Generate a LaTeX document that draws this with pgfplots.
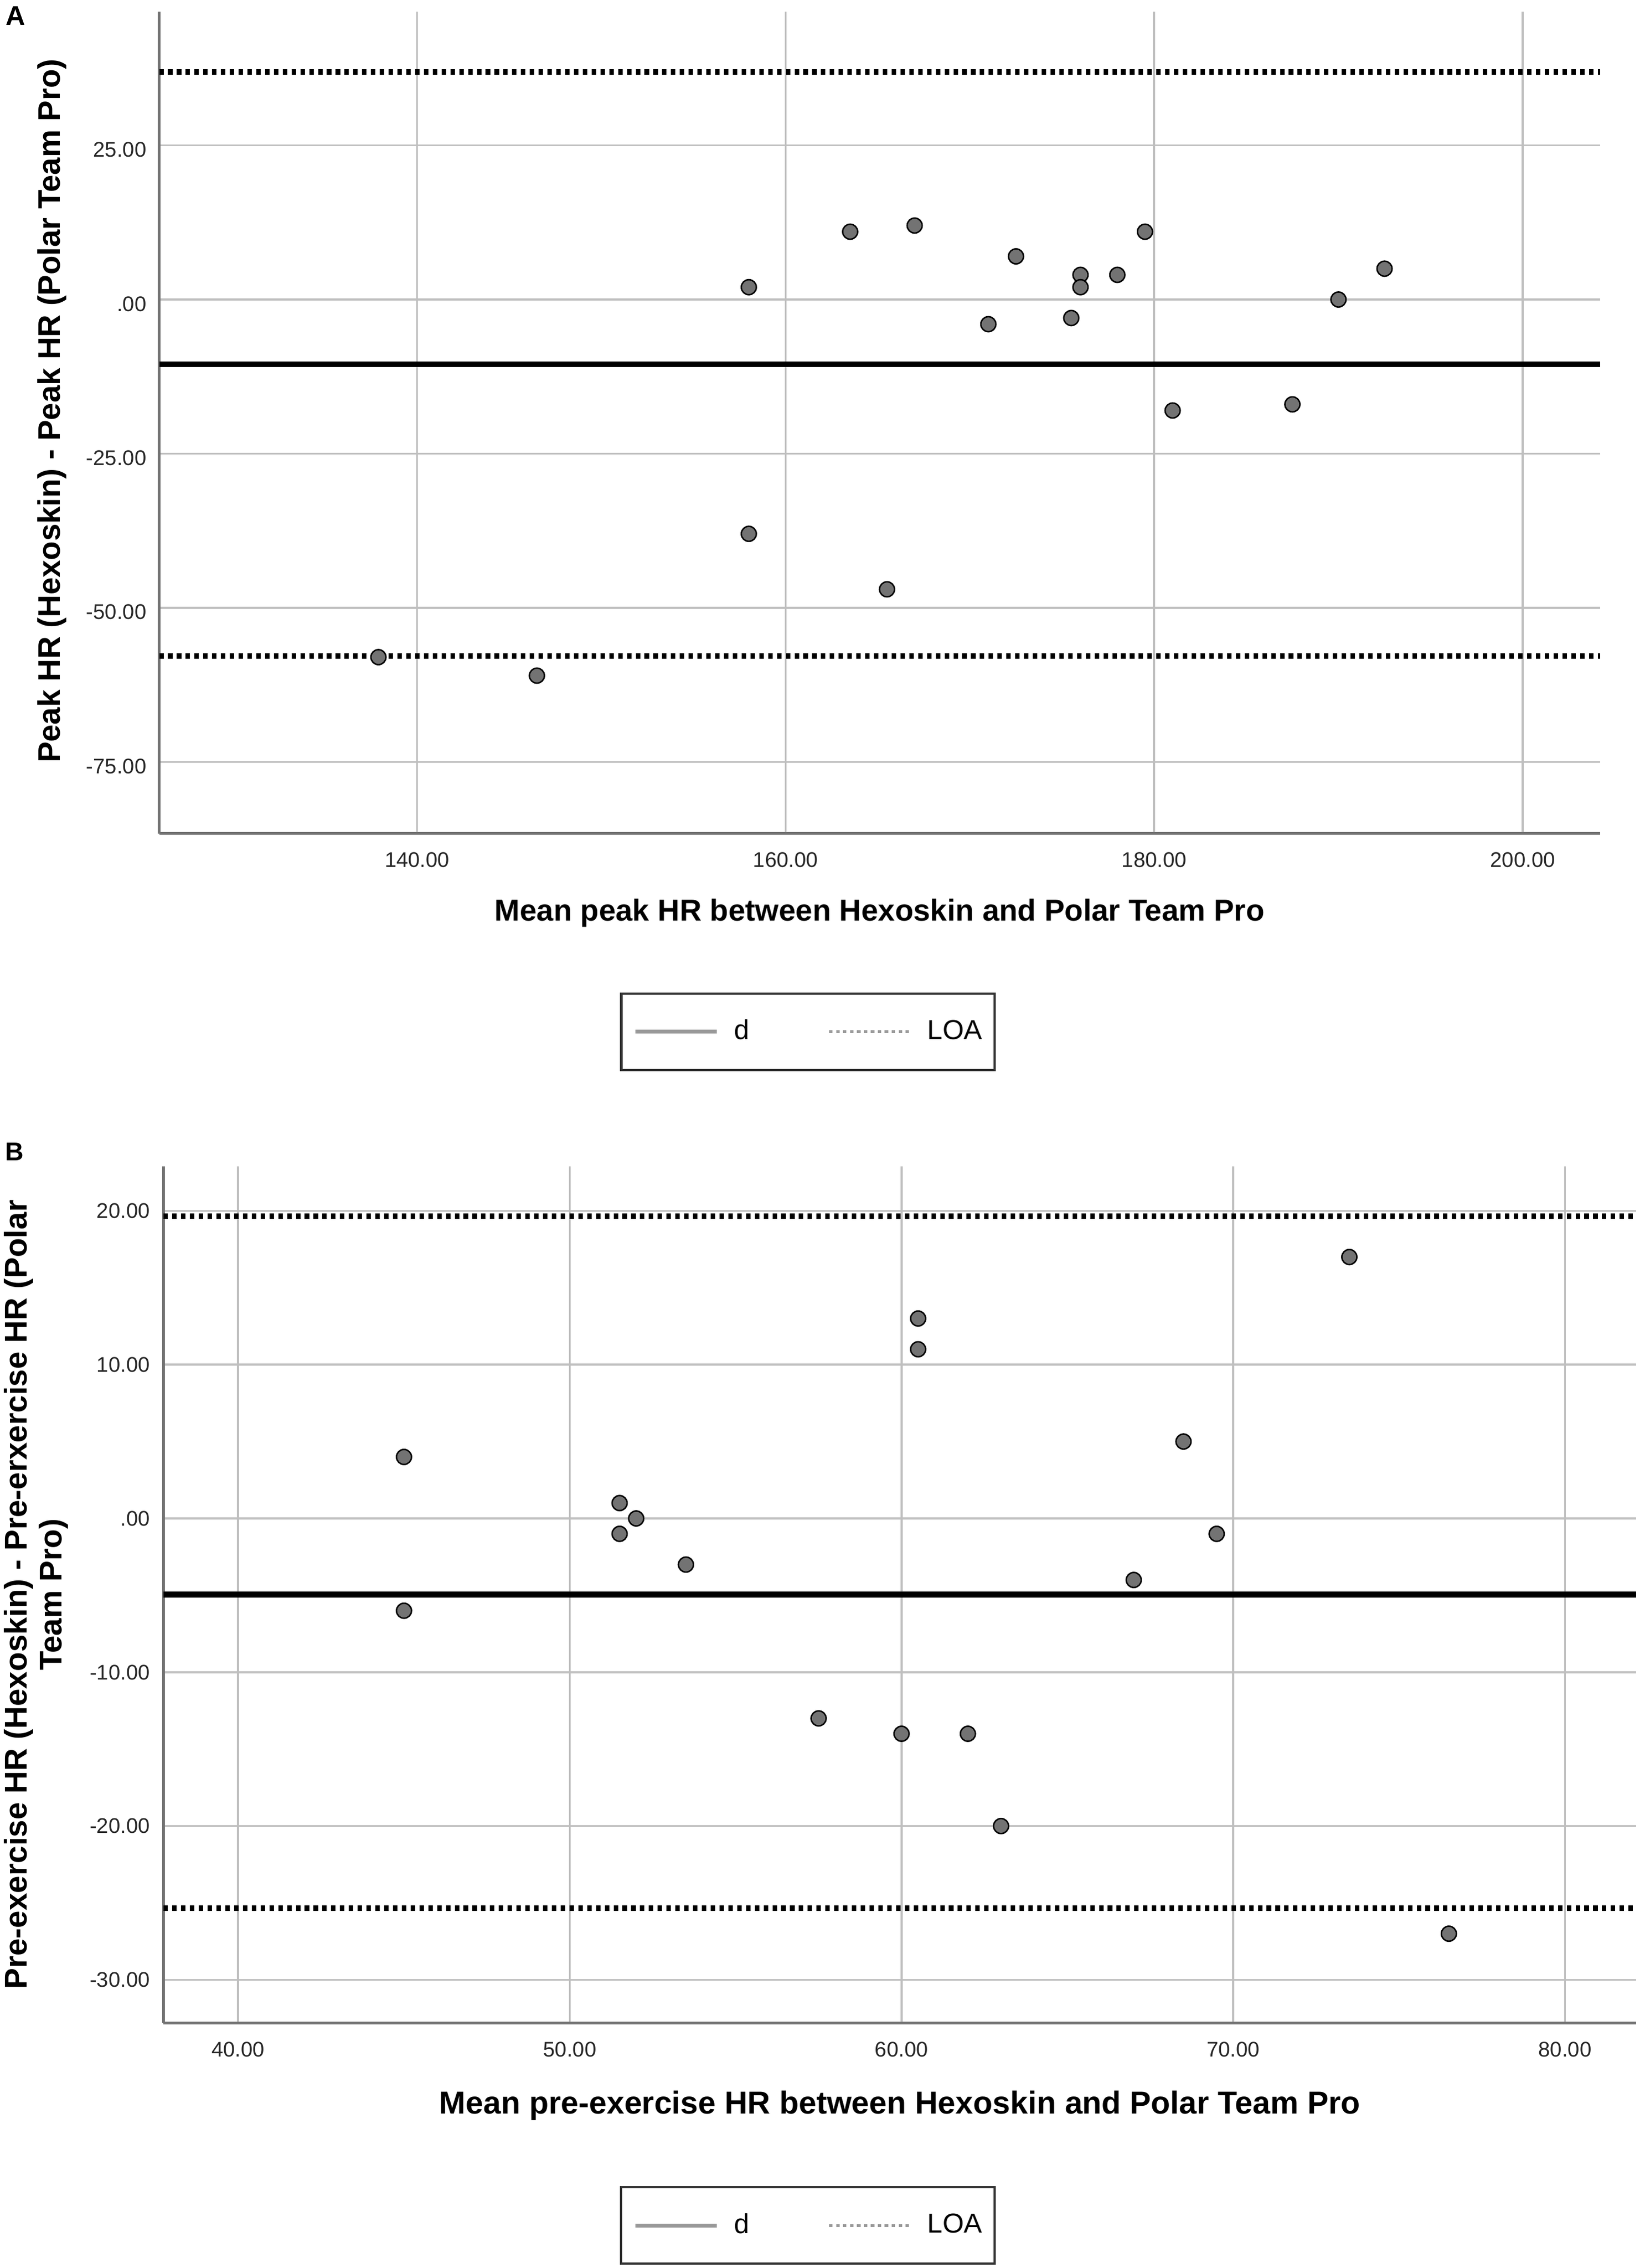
\documentclass[border=0pt]{standalone}
\usepackage{fontspec}
\setmainfont{Liberation Sans}
\usepackage{pgfplots}
\pgfplotsset{compat=1.18}
\pgfplotsset{
  spss/.style={
    scale only axis, anchor=south west,
    axis x line*=bottom, axis y line*=left,
    axis line style={-, black!55, line width=0.9bp},
    major tick length=0pt,
    grid=major, major grid style={black!25, line width=0.7bp},
    tick label style={font=\fontsize{7.35}{8}\selectfont, text=black!85},
    xticklabel style={yshift=-3bp},
    legend image code/.code={\draw[##1] (0bp,0bp) -- (28bp,0bp);},
    legend columns=2,
    legend style={anchor=center, draw=black!80, line width=0.8bp,
      inner xsep=4.3bp, inner ysep=9bp,
      font=\fontsize{9.5}{10}\selectfont,
      nodes={inner sep=0pt, text=black},
      /tikz/every odd column/.append style={column sep=5.5bp},
      /tikz/every even column/.append style={column sep=27bp}},
  },
  dline/.style={black, line width=2bp, no marks},
  loa/.style={black, line width=1.85bp, dash pattern=on 1.55bp off 1.5bp, no marks},
  pts/.style={only marks, mark=*, mark size=2.6bp, mark options={fill=black!55, draw=black, line width=0.5bp}},
}
\begin{document}
\begin{tikzpicture}
\path[use as bounding box] (0,0) rectangle (566.6bp,-783.7bp);
% ---------------- Panel A ----------------
\begin{axis}[spss,
  at={(55bp,-288bp)}, width=498bp, height=284bp,
  xmin=126.0, xmax=204.2, ymin=-86.6, ymax=46.7,
  xtick={140,160,180,200}, xticklabels={140.00,160.00,180.00,200.00},
  ytick={-75,-50,-25,0,25}, yticklabels={-75.00,-50.00,-25.00,.00,25.00},
  yticklabel style={xshift=-0.9bp, yshift=-1.5bp},
  legend style={at={(0.4503,-0.2412)}},
]
\addlegendimage{black!40, line width=1.3bp}
\addlegendentry{d}
\addlegendimage{black!40, line width=1bp, dash pattern=on 1.2bp off 1.2bp}
\addlegendentry{LOA}
\addplot[dline, forget plot] coordinates {(126.0,-10.5) (204.2,-10.5)};
\addplot[loa, forget plot] coordinates {(126.0,36.9) (204.2,36.9)};
\addplot[loa, forget plot] coordinates {(126.0,-57.8) (204.2,-57.8)};
\addplot[pts, forget plot] table {
x y
137.9 -58
146.5 -61
158.0 2
158.0 -38
163.5 11
165.5 -47
167.0 12
171.0 -4
172.5 7
175.5 -3
176.0 4
176.0 2
178.0 4
179.5 11
181.0 -18
187.5 -17
190.0 0
192.5 5
};
\end{axis}
% ---------------- Panel B ----------------
\begin{axis}[spss,
  at={(56.5bp,-699bp)}, width=509bp, height=296bp,
  xmin=37.75, xmax=82.15, ymin=-32.8, ymax=22.9,
  xtick={40,50,60,70,80}, xticklabels={40.00,50.00,60.00,70.00,80.00},
  ytick={-30,-20,-10,0,10,20}, yticklabels={-30.00,-20.00,-10.00,.00,10.00,20.00},
  yticklabel style={xshift=-1.2bp},
  legend style={at={(0.4376,-0.2365)}},
]
\addlegendimage{black!40, line width=1.3bp}
\addlegendentry{d}
\addlegendimage{black!40, line width=1bp, dash pattern=on 1.2bp off 1.2bp}
\addlegendentry{LOA}
\addplot[dline, forget plot] coordinates {(37.75,-4.95) (82.15,-4.95)};
\addplot[loa, forget plot] coordinates {(37.75,19.65) (82.15,19.65)};
\addplot[loa, forget plot] coordinates {(37.75,-25.35) (82.15,-25.35)};
\addplot[pts, forget plot] table {
x y
45.0 4
45.0 -6
51.5 1
51.5 -1
52.0 0
53.5 -3
57.5 -13
60.0 -14
60.5 13
60.5 11
62.0 -14
63.0 -20
67.0 -4
68.5 5
69.5 -1
73.5 17
76.5 -27
};
\end{axis}
% ---------------- Labels ----------------
\node[inner sep=0pt, font=\bfseries\fontsize{9.4}{10}\selectfont] at (5.3bp,-5.4bp) {A};
\node[inner sep=0pt, font=\bfseries\fontsize{8.9}{10}\selectfont] at (5bp,-398bp) {B};
\node[inner sep=0pt, rotate=90, font=\bfseries\fontsize{10.8}{12}\selectfont] at (18bp,-142bp) {Peak HR (Hexoskin) - Peak HR (Polar Team Pro)};
\node[inner sep=0pt, font=\bfseries\fontsize{10.5}{12}\selectfont] at (304bp,-315.5bp) {Mean peak HR between Hexoskin and Polar Team Pro};
\node[inner sep=0pt, font=\bfseries\fontsize{11}{12}\selectfont] at (311bp,-727.5bp) {Mean pre-exercise HR between Hexoskin and Polar Team Pro};
\node[inner sep=0pt, rotate=90, align=center, font=\bfseries\fontsize{10.9}{12}\selectfont] at (12.5bp,-551bp) {Pre-exercise HR (Hexoskin) - Pre-erxercise HR (Polar\\Team Pro)};
\end{tikzpicture}
\end{document}
